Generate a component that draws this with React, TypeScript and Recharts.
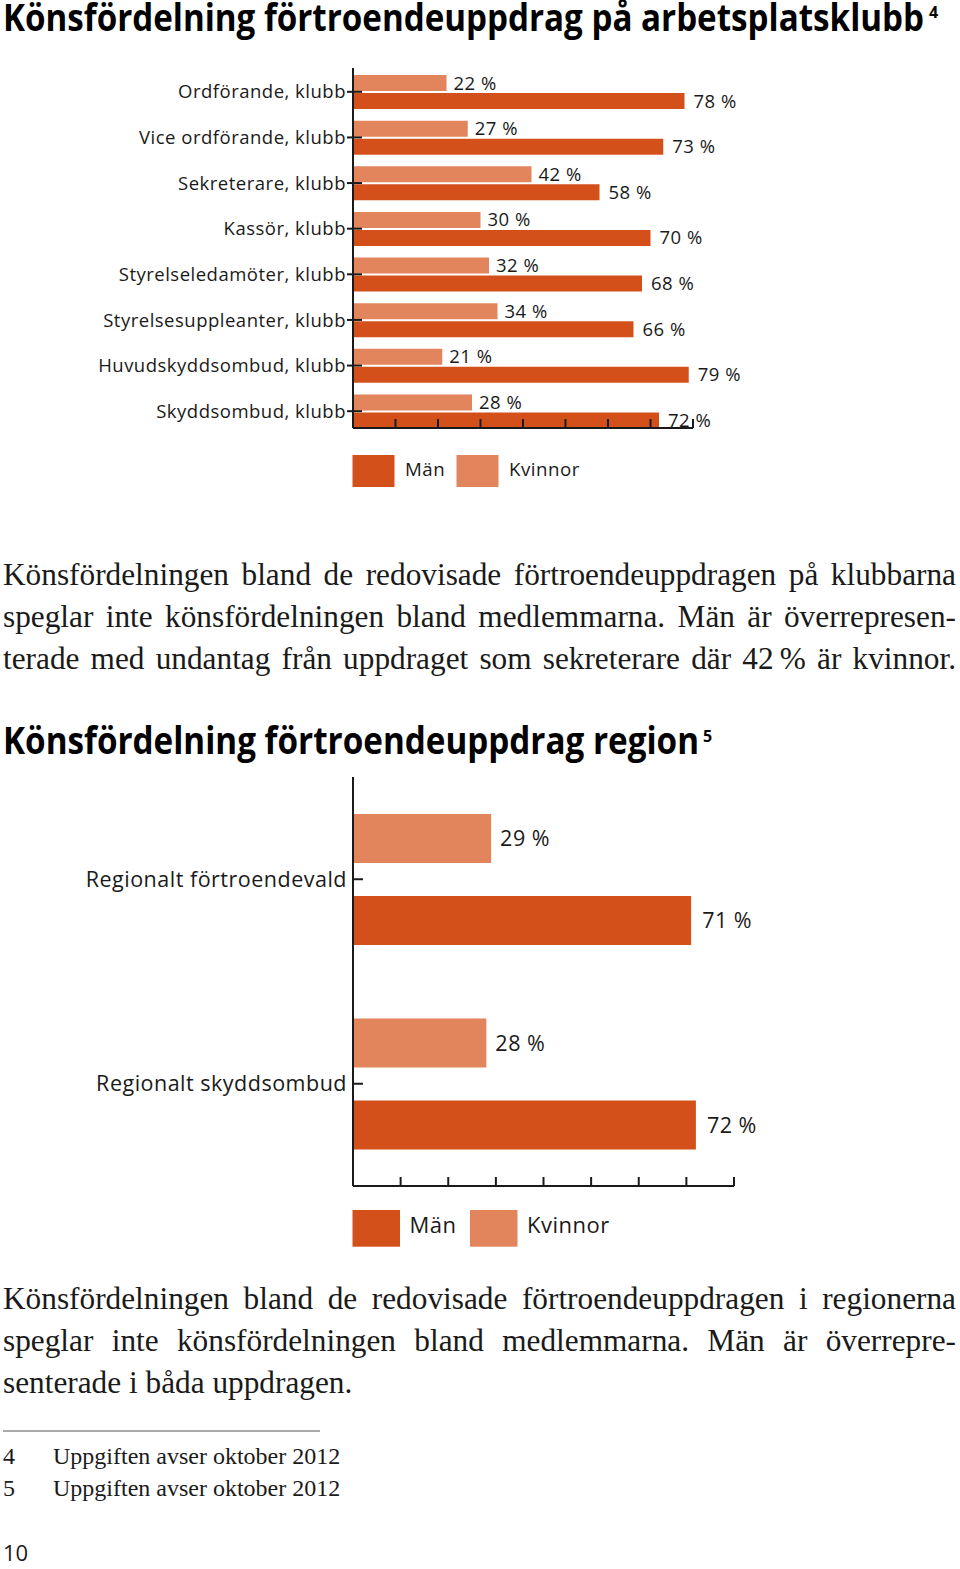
import { BarChart, Bar, XAxis, YAxis, LabelList } from 'recharts';

const MAN = '#d4501a';
const KVINNA = '#e2845c';
const INK = '#1a1a1a';
const SANS = '"Open Sans", sans-serif';
const SERIF = '"Liberation Serif", serif';

// Arbetsplatsklubb
const clubRoles = [
  'Ordförande, klubb',
  'Vice ordförande, klubb',
  'Sekreterare, klubb',
  'Kassör, klubb',
  'Styrelseledamöter, klubb',
  'Styrelsesuppleanter, klubb',
  'Huvudskyddsombud, klubb',
  'Skyddsombud, klubb',
];
const clubWomen = [22, 27, 42, 30, 32, 34, 21, 28];
const clubMen = [78, 73, 58, 70, 68, 66, 79, 72];

// Region
const regionRoles = ['Regionalt förtroendevald', 'Regionalt skyddsombud'];
const regionWomen = [29, 28];
const regionMen = [71, 72];

const percentTicks = [0, 10, 20, 30, 40, 50, 60, 70, 80];
const legendNames = ['Män', 'Kvinnor'];

const para1 = [
  'Könsfördelningen bland de redovisade förtroendeuppdragen på klubbarna',
  'speglar inte könsfördelningen bland medlemmarna. Män är överrepresen-',
  'terade med undantag från uppdraget som sekreterare där 42\u2009% är kvinnor.',
];
const para2 = [
  'Könsfördelningen bland de redovisade förtroendeuppdragen i regionerna',
  'speglar inte könsfördelningen bland medlemmarna. Män är överrepre-',
  'senterade i båda uppdragen.',
];

// category tick: label plus a short stub outside the axis (chart 1 only)
const roleTick = (fontSize: number, stub: number) => (props: any) => {
  const { x, y, payload } = props;
  return (
    <g>
      {stub > 0 && <line x1={x + 1} x2={x + 1 + stub} y1={y} y2={y} stroke={INK} strokeWidth={2} />}
      <text x={x} y={y} dy="0.36em" textAnchor="end" fontSize={fontSize} fontFamily={SANS} fill={INK} letterSpacing={0.5}>
        {payload.value}
      </text>
    </g>
  );
};

function GenderChart({ roles, women, men, height, margin, barSize, barGap, fontSize, labelSize, labelOffset, padding, tickSize, stub }: any) {
  const data = roles.map((role: string, i: number) => ({ role, kvinnor: women[i], man: men[i] }));
  const axisStyle = { stroke: INK, strokeWidth: 2 };
  const labelProps = { fill: INK, fontSize: labelSize, fontFamily: SANS, letterSpacing: 0.5 };
  return (
    <BarChart
      width={960}
      height={height}
      data={data}
      layout="vertical"
      margin={margin}
      barSize={barSize}
      barGap={barGap}
    >
      <XAxis
        type="number"
        domain={[0, 80]}
        ticks={percentTicks}
        tickFormatter={() => ''}
        height={10}
        tickSize={-9}
        axisLine={axisStyle}
        tickLine={axisStyle}
      />
      <YAxis
        type="category"
        dataKey="role"
        width={353}
        interval={0}
        padding={padding}
        tickSize={tickSize}
        tickMargin={6 - tickSize + (stub > 0 ? 1 : 0)}
        axisLine={axisStyle}
        tickLine={axisStyle}
        tick={roleTick(fontSize, stub)}
      />
      <Bar dataKey="kvinnor" fill={KVINNA} isAnimationActive={false}>
        <LabelList dataKey="kvinnor" position="right" offset={labelOffset} formatter={(v: any) => `${v} %`} {...labelProps} />
      </Bar>
      <Bar dataKey="man" fill={MAN} isAnimationActive={false}>
        <LabelList dataKey="man" position="right" offset={labelOffset + 2} formatter={(v: any) => `${v} %`} {...labelProps} />
      </Bar>
    </BarChart>
  );
}

function Paragraph({ lines, top }: { lines: string[]; top: number }) {
  return (
    <div style={{ position: 'absolute', left: 3, top, width: 953, fontFamily: SERIF, fontSize: 31.3, lineHeight: '42px', color: INK }}>
      {lines.map((line, i) => (
        <div
          key={i}
          style={{
            textAlign: 'justify',
            textAlignLast: i === lines.length - 1 && line.length < 40 ? 'left' : 'justify',
          }}
        >
          {line}
        </div>
      ))}
    </div>
  );
}

function Legend({ x, y, w, h, gap, textGap, fontSize, baseline }: any) {
  const colors = [MAN, KVINNA];
  return (
    <g>
      {legendNames.map((name, i) => {
        const sx = x + i * gap;
        return (
          <g key={name}>
            <rect x={sx} y={y} width={w} height={h} fill={colors[i]} />
            <text x={sx + w + textGap} y={baseline} fontSize={fontSize} fontFamily={SANS} fill={INK} letterSpacing={0.5}>
              {name}
            </text>
          </g>
        );
      })}
    </g>
  );
}

export default function App() {
  return (
    <div style={{ position: 'absolute', left: 0, top: 0, width: 960, height: 1569, background: '#fff', overflow: 'hidden' }}>
      <div style={{ position: 'absolute', left: 0, top: 0 }}>
        <GenderChart
          roles={clubRoles}
          women={clubWomen}
          men={clubMen}
          height={440}
          margin={{ top: 68, right: 267, bottom: 2, left: 0 }}
          barSize={16}
          barGap={2}
          fontSize={18.5}
          labelSize={18.5}
          labelOffset={7}
          padding={{ top: 1, bottom: -6 }}
          tickSize={-9}
          stub={5}
        />
      </div>
      <div style={{ position: 'absolute', left: 0, top: 700 }}>
        <GenderChart
          roles={regionRoles}
          women={regionWomen}
          men={regionMen}
          height={500}
          margin={{ top: 77, right: 226, bottom: 4, left: 0 }}
          barSize={49}
          barGap={33}
          fontSize={21.5}
          labelSize={21.5}
          labelOffset={9}
          padding={{ top: 0, bottom: 0 }}
          tickSize={-10}
          stub={0}
        />
      </div>

      <Paragraph lines={para1} top={554} />
      <Paragraph lines={para2} top={1278} />

      <div style={{ position: 'absolute', left: 3, top: 1440, fontFamily: SERIF, fontSize: 24, lineHeight: '32px', color: INK }}>
        <div><span style={{ display: 'inline-block', width: 50 }}>4</span>Uppgiften avser oktober 2012</div>
        <div><span style={{ display: 'inline-block', width: 50 }}>5</span>Uppgiften avser oktober 2012</div>
      </div>

      <svg width={960} height={1569} style={{ position: 'absolute', left: 0, top: 0, pointerEvents: 'none' }}>
        <text x={3} y={31} fontFamily={SANS} fontWeight={700} fontSize={37} fill="#000" textLength={921} lengthAdjust="spacingAndGlyphs">
          Könsfördelning förtroendeuppdrag på arbetsplatsklubb
        </text>
        <text x={929} y={18} fontFamily={SANS} fontWeight={700} fontSize={16} fill="#000">4</text>
        <text x={3} y={754} fontFamily={SANS} fontWeight={700} fontSize={37} fill="#000" textLength={696} lengthAdjust="spacingAndGlyphs">
          Könsfördelning förtroendeuppdrag region
        </text>
        <text x={703} y={742} fontFamily={SANS} fontWeight={700} fontSize={16} fill="#000">5</text>

        <Legend x={352.5} y={455} w={42} h={32} gap={104} textGap={10.5} fontSize={18.7} baseline={476} />
        <Legend x={352.5} y={1210} w={47.5} h={36.7} gap={117.5} textGap={9.5} fontSize={22} baseline={1233} />

        <line x1={3} x2={320} y1={1431} y2={1431} stroke="#555" strokeWidth={1} />
        <text x={3} y={1561} fontFamily={SANS} fontSize={22} fill={INK}>10</text>
      </svg>
    </div>
  );
}
